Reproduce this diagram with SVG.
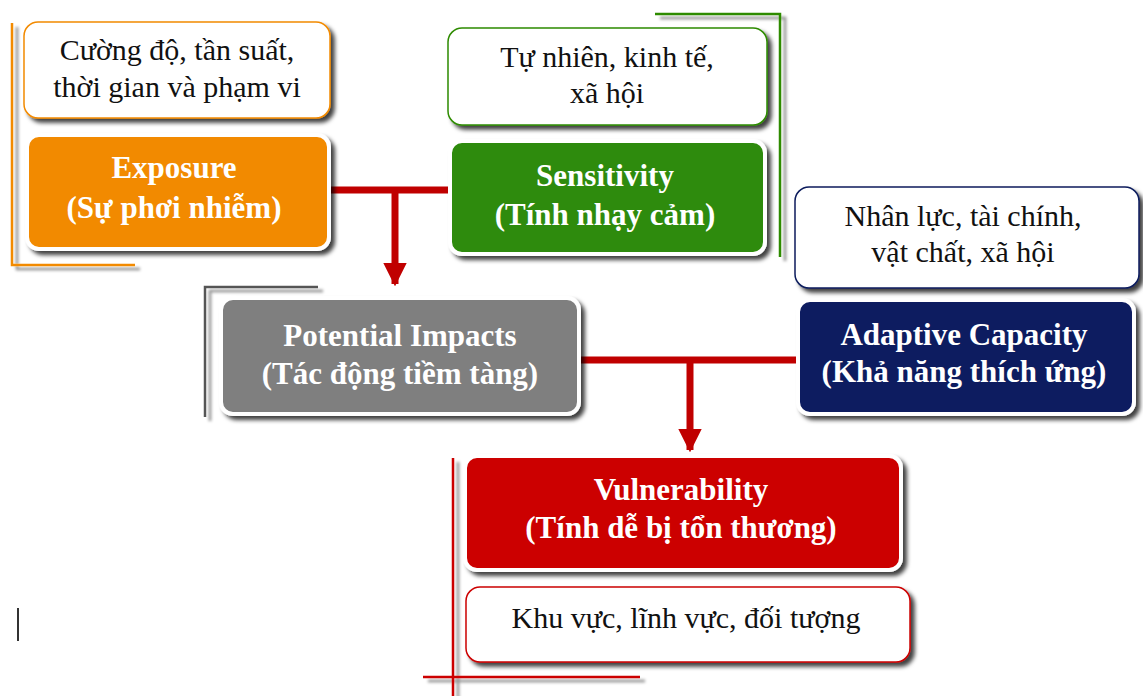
<svg xmlns="http://www.w3.org/2000/svg" width="1143" height="696" viewBox="0 0 1143 696">
<defs>
<filter id="sh" x="-10%" y="-10%" width="130%" height="140%">
<feDropShadow dx="4" dy="4" stdDeviation="2" flood-color="#000" flood-opacity="0.75"/>
</filter>
<filter id="lsh" x="-10%" y="-10%" width="130%" height="130%">
<feDropShadow dx="5" dy="4" stdDeviation="1.5" flood-color="#000" flood-opacity="0.45"/>
</filter>
<marker id="ah" viewBox="0 0 10 10" refX="9" refY="5" markerWidth="3.4" markerHeight="3.4" orient="auto" markerUnits="strokeWidth">
<path d="M0,0 L10,5 L0,10 z" fill="#C00000"/>
</marker>
</defs>
<style>
.note{fill:#fff;stroke-width:1.5;filter:url(#sh)}
.main{stroke:#fff;stroke-width:4;filter:url(#sh)}
.t{font-family:"Liberation Serif","Times New Roman",serif;font-size:30px;fill:#111;text-anchor:middle}
.b{font-family:"Liberation Serif","Times New Roman",serif;font-size:31px;font-weight:bold;fill:#fff;text-anchor:middle}
.deco{fill:none;stroke-width:2.5;filter:url(#lsh)}
.conn{fill:none;stroke:#C00000;stroke-width:7}
</style>
<rect width="1143" height="696" fill="#fff"/>

<g id="deco">
<path class="deco" d="M12,23 V265 H135" stroke="#F28A00"/>
<path class="deco" d="M655,14 H780 V257" stroke="#2E8B00"/>
<path class="deco" d="M318,287 H205 V417" stroke="#555"/>
<path class="deco" d="M1018,433 H1143" stroke="#0A1A5C"/>
<path class="deco" d="M453,458 V696 M423,677 H640" stroke="#CC0000"/>
<path d="M18,608 V641" stroke="#333" stroke-width="2"/>
</g>

<g id="connectors">
<path class="conn" d="M330,190 H452"/>
<path class="conn" d="M395,190 V284" marker-end="url(#ah)"/>
<path class="conn" d="M578,360 H800"/>
<path class="conn" d="M690,360 V450" marker-end="url(#ah)"/>
</g>

<g id="exposure-note">
<rect class="note" x="24" y="22" width="306" height="96" rx="14" stroke="#F28A00"/>
<text class="t" x="177" y="60">Cường độ, tần suất,</text>
<text class="t" x="177" y="97">thời gian và phạm vi</text>
</g>
<g id="exposure">
<rect class="main" x="27" y="135" width="302" height="114" rx="12" fill="#F28A00"/>
<text class="b" x="174" y="178">Exposure</text>
<text class="b" x="174" y="218">(Sự phơi nhiễm)</text>
</g>

<g id="sensitivity-note">
<rect class="note" x="448" y="28" width="319" height="97" rx="14" stroke="#2E8B00"/>
<text class="t" x="607" y="67">Tự nhiên, kinh tế,</text>
<text class="t" x="607" y="103">xã hội</text>
</g>
<g id="sensitivity">
<rect class="main" x="450" y="141" width="315" height="113" rx="12" fill="#2E8B0A"/>
<text class="b" x="605" y="186">Sensitivity</text>
<text class="b" x="605" y="225">(Tính nhạy cảm)</text>
</g>

<g id="potential">
<rect class="main" x="221" y="298" width="358" height="116" rx="12" fill="#7F7F7F"/>
<text class="b" x="400" y="346">Potential Impacts</text>
<text class="b" x="400" y="384">(Tác động tiềm tàng)</text>
</g>

<g id="adaptive-note">
<rect class="note" x="795" y="187" width="344" height="101" rx="14" stroke="#0A1A5C"/>
<text class="t" x="963" y="226">Nhân lực, tài chính,</text>
<text class="t" x="963" y="262">vật chất, xã hội</text>
</g>
<g id="adaptive">
<rect class="main" x="798" y="300" width="336" height="114" rx="12" fill="#0C1A60"/>
<text class="b" x="964" y="345">Adaptive Capacity</text>
<text class="b" x="964" y="382">(Khả năng thích ứng)</text>
</g>

<g id="vulnerability">
<rect class="main" x="465" y="456" width="436" height="114" rx="12" fill="#CC0000"/>
<text class="b" x="681" y="500">Vulnerability</text>
<text class="b" x="681" y="538">(Tính dễ bị tổn thương)</text>
</g>
<g id="vulnerability-note">
<rect class="note" x="466" y="587" width="444" height="75" rx="14" stroke="#CC0000"/>
<text class="t" x="686" y="628">Khu vực, lĩnh vực, đối tượng</text>
</g>
</svg>
